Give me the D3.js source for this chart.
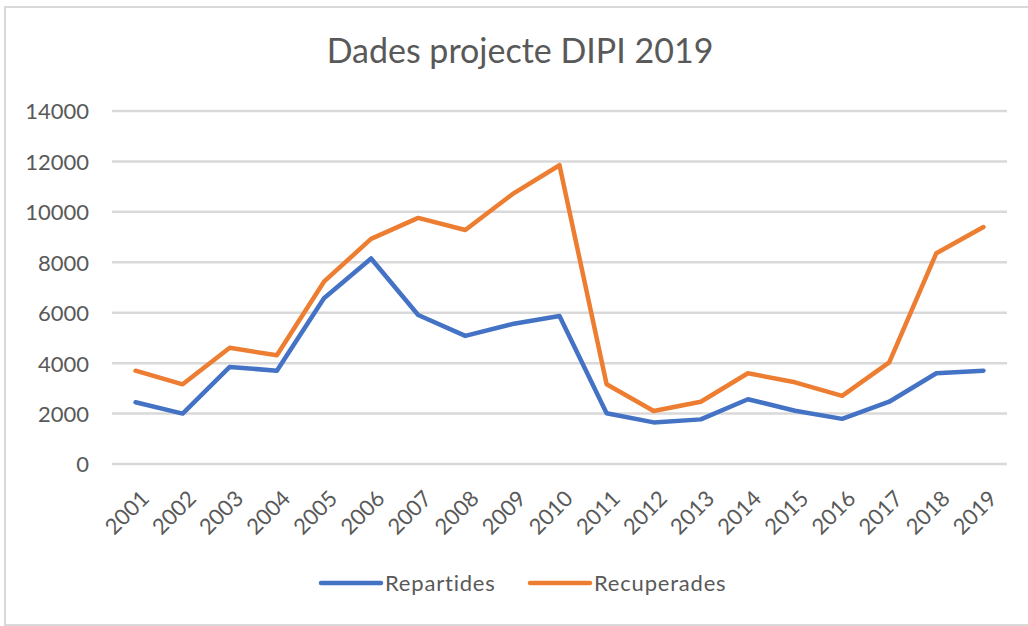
<!DOCTYPE html>
<html>
<head>
<meta charset="utf-8">
<script src="https://cdn.jsdelivr.net/npm/d3@7"></script>
<style>
  html, body { margin: 0; padding: 0; background: #fff; }
  svg { display: block; }
  text { font-family: Lato, "Open Sans", sans-serif; fill: #595959; }
</style>
</head>
<body>
<svg id="chart" width="1028" height="626"></svg>
<script>
const years = ["2001","2002","2003","2004","2005","2006","2007","2008","2009","2010","2011","2012","2013","2014","2015","2016","2017","2018","2019"];
const repartides = [2450, 2000, 3850, 3700, 6570, 8150, 5910, 5080, 5550, 5870, 2010, 1650, 1770, 2570, 2110, 1790, 2470, 3600, 3700];
const recuperades = [3700, 3160, 4610, 4310, 7230, 8930, 9760, 9280, 10700, 11850, 3160, 2100, 2470, 3600, 3240, 2700, 4030, 8360, 9400];
const yTicks = [0, 2000, 4000, 6000, 8000, 10000, 12000, 14000];
const seriesNames = ["Repartides", "Recuperades"];
const colors = ["#4472C4", "#ED7D31"];
const title = "Dades projecte DIPI 2019";

const svg = d3.select("#chart");

// outer frame
svg.append("rect")
  .attr("x", 5).attr("y", 7).attr("width", 1040).attr("height", 618)
  .attr("fill", "none").attr("stroke", "#d9d9d9").attr("stroke-width", 2);

const x = d3.scaleBand().domain(years).range([112, 1007]).padding(0);
const y = d3.scaleLinear().domain([0, 14000]).range([464, 111]);

// gridlines
svg.append("g").selectAll("line").data(yTicks).join("line")
  .attr("x1", 112).attr("x2", 1007)
  .attr("y1", d => y(d)).attr("y2", d => y(d))
  .attr("stroke", "#d9d9d9").attr("stroke-width", 2.5);

// y axis labels
const yAxis = d3.axisLeft(y).tickValues(yTicks).tickSize(0).tickPadding(0).tickFormat(d3.format("d"));
const yg = svg.append("g").attr("transform", "translate(89,0)").call(yAxis);
yg.select(".domain").remove();
yg.selectAll("text").attr("font-size", 22).attr("fill", "#595959").attr("font-family", "Lato, sans-serif").attr("dy", "0.36em");

// x axis labels
const xAxis = d3.axisBottom(x).tickSize(0).tickPadding(0);
const xg = svg.append("g").attr("transform", "translate(0,478)").call(xAxis);
xg.select(".domain").remove();
xg.selectAll("text")
  .attr("font-size", 22).attr("fill", "#595959").attr("font-family", "Lato, sans-serif")
  .attr("text-anchor", "end")
  .attr("dy", "0.7em")
  .attr("transform", "translate(4,11) rotate(-45)");

// lines
const line = d3.line().x((d, i) => x(years[i]) + x.bandwidth() / 2).y(d => y(d));
[repartides, recuperades].forEach((s, k) => {
  svg.append("path").datum(s)
    .attr("d", line)
    .attr("fill", "none")
    .attr("stroke", colors[k])
    .attr("stroke-width", 4.5)
    .attr("stroke-linejoin", "round")
    .attr("stroke-linecap", "round");
});

// title
svg.append("text").attr("x", 520).attr("y", 63).attr("text-anchor", "middle")
  .attr("font-size", 34).attr("font-weight", 400).attr("fill", "#595959").text(title);

// legend
const legendX = [321, 530];
seriesNames.forEach((n, k) => {
  const g = svg.append("g");
  g.append("line").attr("x1", legendX[k]).attr("x2", legendX[k] + 60)
    .attr("y1", 583).attr("y2", 583)
    .attr("stroke", colors[k]).attr("stroke-width", 4.5).attr("stroke-linecap", "round");
  g.append("text").attr("x", legendX[k] + 64).attr("y", 591)
    .attr("font-size", 22).attr("letter-spacing", 0.8).attr("fill", "#595959").text(n);
});
</script>
</body>
</html>
